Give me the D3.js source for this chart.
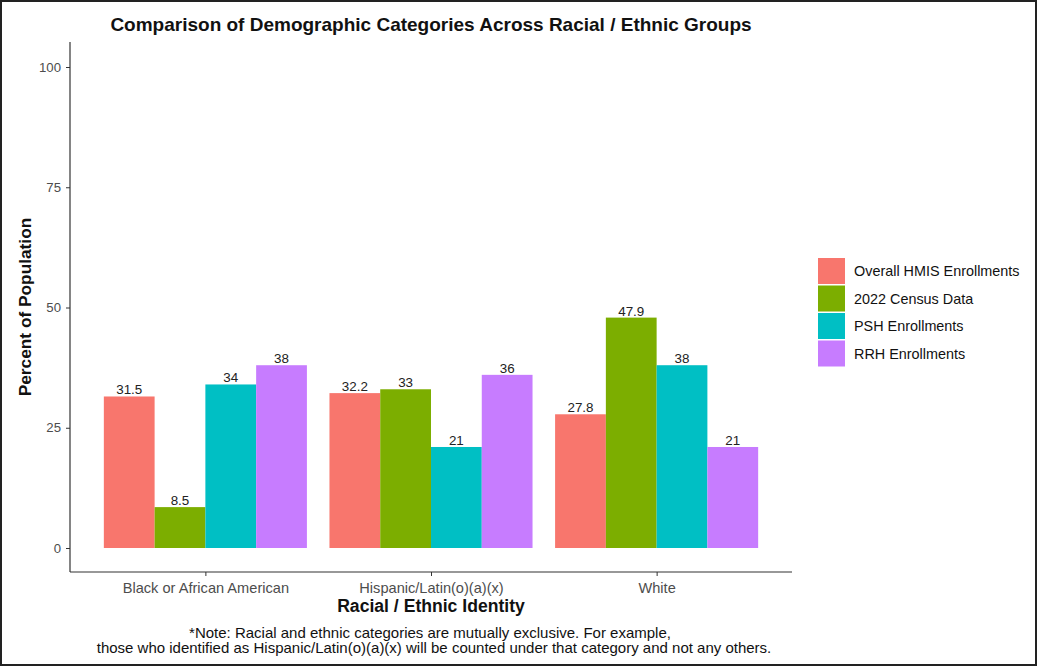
<!DOCTYPE html>
<html>
<head>
<meta charset="utf-8">
<script src="https://cdn.jsdelivr.net/npm/d3@7"></script>
<style>
  html, body { margin: 0; padding: 0; background: #fff; }
  svg { display: block; font-family: "Liberation Sans", Arial, sans-serif; }
</style>
</head>
<body>
<svg id="chart" width="1038" height="667"></svg>
<script>
// Racial / ethnic groups on the x axis
const groups = ["Black or African American", "Hispanic/Latin(o)(a)(x)", "White"];
// Data sources, one bar each per group
const seriesNames = ["Overall HMIS Enrollments", "2022 Census Data", "PSH Enrollments", "RRH Enrollments"];
const seriesColors = ["#F8766D", "#7CAE00", "#00BFC4", "#C77CFF"];
// Percent of population, by group, per source
const hmisValues   = [31.5, 32.2, 27.8];
const censusValues = [8.5, 33, 47.9];
const pshValues    = [34, 21, 38];
const rrhValues    = [38, 36, 21];
const yTicks = [0, 25, 50, 75, 100];

const seriesValues = [hmisValues, censusValues, pshValues, rrhValues];

const svg = d3.select("#chart");

// outer frame
svg.append("rect")
  .attr("x", 1).attr("y", 1).attr("width", 1035).attr("height", 664)
  .attr("fill", "#fff").attr("stroke", "#222").attr("stroke-width", 2);

const panel = { left: 70, right: 792, top: 42, bottom: 572 };

const y = d3.scaleLinear().domain([0, 100]).range([548, 67]);

// discrete axis with ggplot-style 0.6 expansion on each side
const xPos = d3.scaleLinear().domain([0.4, 3.6]).range([panel.left, panel.right]);
const unit = xPos(2) - xPos(1);
const groupWidth = unit * 0.9;
const barWidth = groupWidth / seriesNames.length;

const rows = [];
groups.forEach((g, gi) => {
  seriesNames.forEach((s, si) => {
    rows.push({ group: g, gi, series: s, si, value: seriesValues[si][gi] });
  });
});

const barX = d => xPos(d.gi + 1) - groupWidth / 2 + d.si * barWidth;

svg.append("g").selectAll("rect")
  .data(rows).join("rect")
  .attr("x", barX)
  .attr("y", d => y(d.value))
  .attr("width", barWidth)
  .attr("height", d => y(0) - y(d.value))
  .attr("fill", d => seriesColors[d.si]);

// value labels above bars
svg.append("g").selectAll("text")
  .data(rows).join("text")
  .attr("x", d => barX(d) + barWidth / 2)
  .attr("y", d => y(d.value) - 2)
  .attr("text-anchor", "middle")
  .attr("font-size", 13.4)
  .attr("fill", "#222")
  .text(d => d.value);

// y axis
const yAxis = svg.append("g")
  .attr("transform", `translate(${panel.left},0)`)
  .call(d3.axisLeft(y).tickValues(yTicks).tickSize(4).tickPadding(5));
yAxis.select(".domain").remove();
yAxis.append("line")
  .attr("x1", 0).attr("x2", 0).attr("y1", panel.top).attr("y2", panel.bottom)
  .attr("stroke", "#333").attr("stroke-width", 1.2);
yAxis.selectAll(".tick line").attr("stroke", "#333");
yAxis.selectAll(".tick text").attr("fill", "#4d4d4d").attr("font-size", 13.2)
  .attr("font-family", "Liberation Sans, Arial, sans-serif");

// x axis
const xBand = d3.scaleOrdinal().domain(groups).range(groups.map((g, i) => xPos(i + 1)));
const xAxis = svg.append("g")
  .attr("transform", `translate(0,${panel.bottom})`)
  .call(d3.axisBottom(xBand).tickSize(4).tickPadding(7));
xAxis.select(".domain").remove();
xAxis.append("line")
  .attr("x1", panel.left).attr("x2", panel.right).attr("y1", 0).attr("y2", 0)
  .attr("stroke", "#333").attr("stroke-width", 1.2);
xAxis.selectAll(".tick line").attr("stroke", "#333");
xAxis.selectAll(".tick text").attr("fill", "#4d4d4d").attr("font-size", 14.6)
  .attr("font-family", "Liberation Sans, Arial, sans-serif");

// titles
svg.append("text")
  .attr("x", (panel.left + panel.right) / 2).attr("y", 31)
  .attr("text-anchor", "middle").attr("font-size", 19).attr("font-weight", "bold")
  .attr("fill", "#111")
  .text("Comparison of Demographic Categories Across Racial / Ethnic Groups");

svg.append("text")
  .attr("x", (panel.left + panel.right) / 2).attr("y", 612)
  .attr("text-anchor", "middle").attr("font-size", 17.6).attr("font-weight", "bold")
  .attr("fill", "#111")
  .text("Racial / Ethnic Identity");

svg.append("text")
  .attr("transform", `translate(31,${(panel.top + panel.bottom) / 2}) rotate(-90)`)
  .attr("text-anchor", "middle").attr("font-size", 17.3).attr("font-weight", "bold")
  .attr("fill", "#111")
  .text("Percent of Population");

// footnote
const note = svg.append("text")
  .attr("text-anchor", "middle").attr("font-size", 15).attr("fill", "#111");
note.append("tspan").attr("x", 430).attr("y", 638)
  .text("*Note: Racial and ethnic categories are mutually exclusive. For example,");
note.append("tspan").attr("x", 434).attr("y", 653)
  .text("those who identified as Hispanic/Latin(o)(a)(x) will be counted under that category and not any others.");

// legend
const legend = svg.append("g").attr("transform", "translate(818,258)");
const item = legend.selectAll("g").data(seriesNames).join("g")
  .attr("transform", (d, i) => `translate(0,${i * 27.5})`);
item.append("rect")
  .attr("width", 27).attr("height", 26)
  .attr("fill", (d, i) => seriesColors[i]);
item.append("text")
  .attr("x", 36).attr("y", 13).attr("dy", "0.35em")
  .attr("font-size", 14.4).attr("fill", "#111")
  .text(d => d);
</script>
</body>
</html>
